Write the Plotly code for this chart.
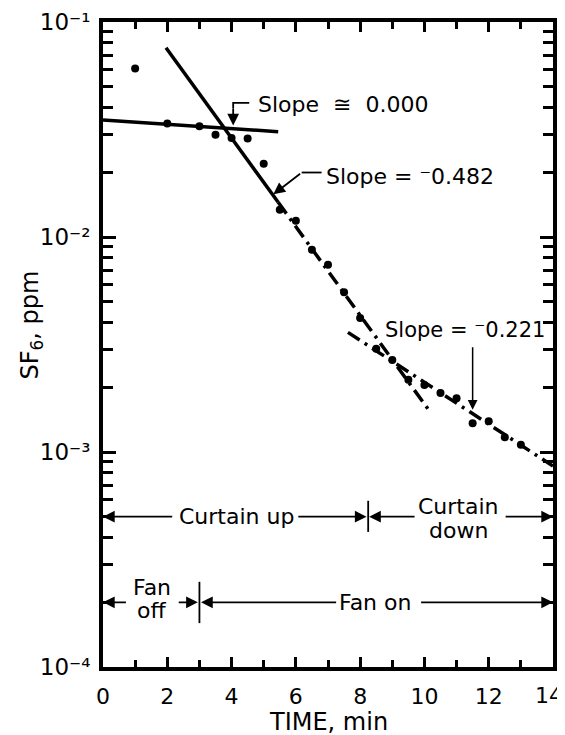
import math
import plotly.graph_objects as go

# ---------------- data ----------------
time_min = [1.0, 2.0, 3.0, 3.5, 4.0, 4.5, 5.0, 5.5, 6.0, 6.5, 7.0, 7.5, 8.0,
            8.5, 9.0, 9.5, 10.0, 10.5, 11.0, 11.5, 12.0, 12.5, 13.0]
sf6_ppm = [0.0608, 0.0337, 0.0327, 0.0299, 0.0289, 0.0287, 0.0219, 0.0134,
           0.0119, 0.00873, 0.00743, 0.00554, 0.0042, 0.00302, 0.00268,
           0.00217, 0.00205, 0.00188, 0.00178, 0.00136, 0.00139, 0.00117,
           0.00108]

# fitted lines (end points)
fit0_x = [0.0, 5.45]
fit0_y = [0.035, 0.0309]
fit1a_x = [1.96, 5.45]
fit1a_y = [0.0759, 0.0145]
fit1b_x = [5.45, 10.2]
fit1b_y = [0.0145, 0.00152]
fit2_x = [7.62, 14.0]
fit2_y = [0.0036, 0.00086]

x_ticks = [0, 2, 4, 6, 8, 10, 12, 14]
x_ticktext = ["0", "2", "4", "6", "8", "10", "12", "14"]
y_ticks = [1e-4, 1e-3, 1e-2, 1e-1]
y_ticktext = ["10\u207b\u2074", "10\u207b\u00b3", "10\u207b\u00b2", "10\u207b\u00b9"]

curtain_level = 5e-4
fan_level = 2e-4
curtain_switch = 8.25
fan_switch = 3.0

FONT = "DejaVu Sans"
BLACK = "black"

fig = go.Figure()

# fitted lines
fig.add_trace(go.Scatter(x=fit0_x, y=fit0_y, mode="lines",
                         line=dict(color=BLACK, width=3.5)))
fig.add_trace(go.Scatter(x=fit1a_x, y=fit1a_y, mode="lines",
                         line=dict(color=BLACK, width=3.5)))
fig.add_trace(go.Scatter(x=fit1b_x, y=fit1b_y, mode="lines",
                         line=dict(color=BLACK, width=3.5, dash="14px,6px,3px,6px")))
fig.add_trace(go.Scatter(x=fit2_x, y=fit2_y, mode="lines",
                         line=dict(color=BLACK, width=3.5, dash="14px,6px,3px,6px")))

# data points
fig.add_trace(go.Scatter(x=time_min, y=sf6_ppm, mode="markers",
                         marker=dict(color=BLACK, size=8)))

# leader lines (non-arrow parts)
fig.add_trace(go.Scatter(x=[4.55, 4.05, 4.05], y=[0.0421, 0.0421, 0.0395], mode="lines",
                         line=dict(color=BLACK, width=1.8)))
fig.add_trace(go.Scatter(x=[6.8, 6.18], y=[0.01995, 0.01995], mode="lines",
                         line=dict(color=BLACK, width=1.8)))
# switch tick marks
fig.add_trace(go.Scatter(x=[curtain_switch, curtain_switch], y=[5.93e-4, 4.25e-4], mode="lines",
                         line=dict(color=BLACK, width=1.8)))
fig.add_trace(go.Scatter(x=[fan_switch, fan_switch], y=[2.49e-4, 1.6e-4], mode="lines",
                         line=dict(color=BLACK, width=1.8)))

L = math.log10
anns = []


def arrow(x_head, y_head, x_tail, y_tail, w=1.8):
    anns.append(dict(x=x_head, y=L(y_head), ax=x_tail, ay=L(y_tail),
                     xref="x", yref="y", axref="x", ayref="y", text="",
                     showarrow=True, arrowhead=2, arrowsize=1.3, arrowwidth=w,
                     arrowcolor=BLACK, standoff=0, startstandoff=0))


def label(x, y, text, xanchor="center", size=22):
    anns.append(dict(x=x, y=L(y), xref="x", yref="y", text=text, showarrow=False,
                     xanchor=xanchor, yanchor="middle",
                     font=dict(family=FONT, size=size, color=BLACK)))


NB = "\u00a0"
# slope annotations
arrow(4.05, 0.033, 4.05, 0.0400)
label(4.75, 0.0412, "Slope" + NB + NB + "\u2245" + NB + NB + "0.000", xanchor="left")
arrow(5.3, 0.0158, 6.18, 0.01995)
label(6.86, 0.0191, "Slope = \u207b0.482", xanchor="left")
arrow(11.5, 10 ** -2.804, 11.5, 10 ** -2.506, w=1.5)
label(8.72, 0.0037, "Slope = \u207b0.221", xanchor="left", size=21)

# curtain row
arrow(0.0, curtain_level, 2.2, curtain_level)
label(4.15, curtain_level, "Curtain up")
arrow(curtain_switch - 0.05, curtain_level, 6.03, curtain_level)
arrow(curtain_switch + 0.03, curtain_level, 9.74, curtain_level)
label(11.07, 5.57e-4, "Curtain")
label(11.07, 4.32e-4, "down")
arrow(14.0, curtain_level, 12.48, curtain_level)

# fan row
arrow(0.0, fan_level, 0.76, fan_level)
label(1.52, 2.355e-4, "Fan")
label(1.52, 1.83e-4, "off")
arrow(fan_switch - 0.05, fan_level, 2.31, fan_level)
arrow(fan_switch + 0.05, fan_level, 7.3, fan_level)
label(8.45, fan_level, "Fan on")
arrow(14.0, fan_level, 9.85, fan_level)

# last x tick label drawn as an annotation, nudged left so it stays in the page
anns.append(dict(x=x_ticks[-1], y=0, xref="x", yref="paper",
                 text=x_ticktext[-1], showarrow=False,
                 xanchor="center", yanchor="middle", xshift=-4, yshift=-28,
                 font=dict(family=FONT, size=22, color=BLACK)))

# axis titles
anns.append(dict(x=-0.16, y=0.5295, xref="paper", yref="paper",
                 text="SF<sub>6</sub>, ppm", textangle=-90, showarrow=False,
                 xanchor="center", yanchor="middle",
                 font=dict(family=FONT, size=24, color=BLACK)))
anns.append(dict(x=0.5, y=-0.085, xref="paper", yref="paper",
                 text="TIME, min", showarrow=False,
                 xanchor="center", yanchor="middle",
                 font=dict(family=FONT, size=24, color=BLACK)))

minor_y = [m * 10 ** e for e in (-4, -3, -2) for m in range(2, 10)]

# page body has an 8px default margin: size the figure so the plot area
# lands where the reference has it
fig.update_layout(
    width=557, height=727,
    margin=dict(l=95, r=12, t=14, b=68, autoexpand=False),
    paper_bgcolor="white", plot_bgcolor="white",
    showlegend=False,
    annotations=anns,
    font=dict(family=FONT, size=22, color=BLACK),
    xaxis=dict(range=[0, 14], tickmode="array", tickvals=x_ticks[:-1],
               ticktext=x_ticktext[:-1],
               automargin=False, ticklabeloverflow="allow",
               ticks="inside", ticklen=10, tickwidth=2.5, tickcolor=BLACK,
               showline=True, linewidth=4, linecolor=BLACK, mirror="ticks",
               showgrid=False, zeroline=False,
               tickfont=dict(family=FONT, size=22, color=BLACK),
               ticklabelstandoff=7,
               minor=dict(dtick=1, tick0=0, ticks="inside", ticklen=7,
                          tickwidth=2.5, tickcolor=BLACK, showgrid=False)),
    yaxis=dict(type="log", range=[-4, -1], tickmode="array",
               tickvals=y_ticks, ticktext=y_ticktext,
               automargin=False, ticklabeloverflow="allow",
               ticks="inside", ticklen=13, tickwidth=2.5, tickcolor=BLACK,
               showline=True, linewidth=4, linecolor=BLACK, mirror="ticks",
               showgrid=False, zeroline=False,
               tickfont=dict(family=FONT, size=23, color=BLACK),
               ticklabelstandoff=4,
               minor=dict(tickmode="array", tickvals=minor_y, ticks="inside",
                          ticklen=10, tickwidth=2.5, tickcolor=BLACK,
                          showgrid=False)),
)

fig.write_html("out.html")
